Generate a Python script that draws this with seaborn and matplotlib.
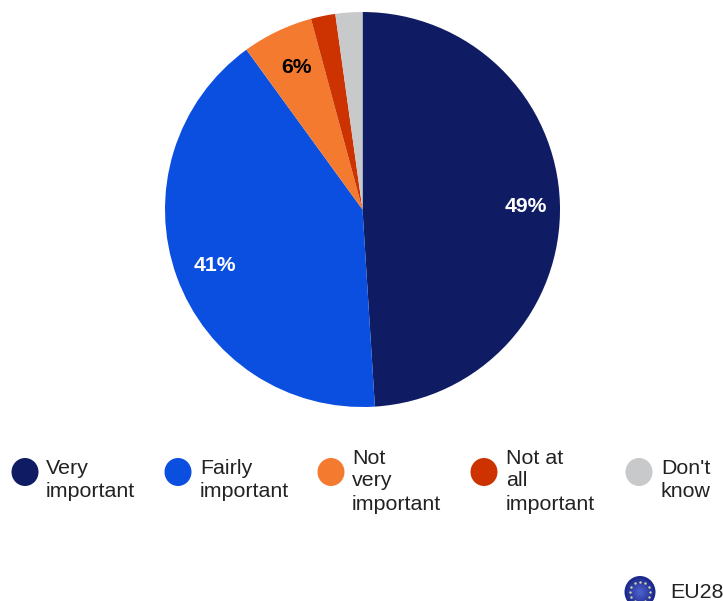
import numpy as np
import matplotlib
matplotlib.use("Agg")
import matplotlib.pyplot as plt
from matplotlib.patches import Ellipse
from matplotlib.transforms import ScaledTranslation
import seaborn as sns

categories = ["Very\nimportant", "Fairly\nimportant", "Not\nvery\nimportant", "Not at\nall\nimportant", "Don't\nknow"]
values = [49, 41, 5.8, 2, 2.2]
colors = ["#0f1c64", "#0a4fe0", "#f47a30", "#cc3300", "#c8c9cb"]
label_colors = ["white", "white", "black", "white", "black"]
badge_label = "EU28"

W, H = 723, 601
sns.set_theme(style="white")
plt.rcParams["font.family"] = ["Liberation Sans", "DejaVu Sans"]
palette = sns.color_palette(colors)

fig = plt.figure(figsize=(W / 100, H / 100), dpi=100, facecolor="white")

ov = fig.add_axes([0, 0, 1, 1])
ov.set_xlim(0, W)
ov.set_ylim(H, 0)
ov.axis("off")

cx, cy, r = 362.5, 209.5, 197.5
ax = fig.add_axes([(cx - r) / W, 1 - (cy + r) / H, 2 * r / W, 2 * r / H])
wedges, _, autotexts = ax.pie(
    values, colors=palette, startangle=90, counterclock=False, radius=1,
    autopct=lambda p: f"{p:.0f}%" if p >= 5 else "", pctdistance=0.81,
    wedgeprops={"linewidth": 0},
    textprops={"fontsize": 15.2, "fontweight": "bold"},
)
nudge = ScaledTranslation(3 / 100, 0, fig.dpi_scale_trans)
for t, c in zip(autotexts, label_colors):
    t.set_color(c)
    t.set_va("center_baseline")
    t.set_transform(t.get_transform() + nudge)
ax.set_xlim(-1, 1)
ax.set_ylim(-1, 1)

swatch_x = [25, 178, 331, 484, 639]
text_x = [46, 200, 352, 506, 661]
legend_y = 472
for sx, tx, label, col in zip(swatch_x, text_x, categories, palette):
    ov.add_patch(Ellipse((sx, legend_y), 27, 28, fc=col, ec="none"))
    n = label.count("\n") + 1
    ys = legend_y + 7 + 23 * (np.arange(n) - (n - 1) / 2) - (0 if n == 3 else 1)
    for y, line in zip(ys, label.split("\n")):
        ov.text(tx, y, line, fontsize=15.4, color="#222222", ha="left", va="center_baseline")

bx, by = 640, 592
for k, shade in zip(np.linspace(1, 0.2, 6), sns.blend_palette(["#1c2a8c", "#4a5cc8"], 6)):
    ov.add_patch(Ellipse((bx, by), 31 * k, 32 * k, fc=shade, ec="none"))
ang = np.linspace(0, 2 * np.pi, 12, endpoint=False)
ov.scatter(bx + 10 * np.cos(ang), by + 10 * np.sin(ang), s=3, color="#d8d8a0", linewidths=0)
ov.text(670, 590, badge_label, fontsize=15.4, color="#222222", ha="left", va="center_baseline")

fig.savefig("out.png", dpi=100, facecolor="white")
